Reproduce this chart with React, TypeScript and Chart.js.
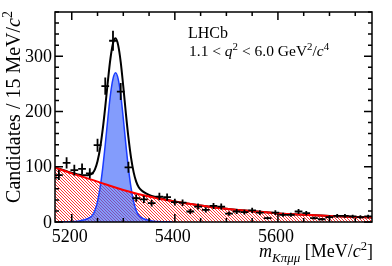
import React, { useEffect, useRef } from 'react';
import { Chart, registerables } from 'chart.js';
Chart.register(...registerables);

// Data points (bin centres in MeV/c^2, candidates per 15 MeV/c^2)
const binCenters = [5175, 5190, 5205, 5220, 5235, 5250, 5265, 5280, 5295, 5310, 5325, 5340, 5355, 5370, 5385, 5400, 5415, 5430, 5445, 5460, 5475, 5490, 5505, 5520, 5535, 5550, 5565, 5580, 5595, 5610, 5625, 5640, 5655, 5670, 5685, 5700, 5715, 5730, 5745, 5760, 5775];
const counts = [85, 107, 94, 96, 88, 139, 246, 328, 236, 99, 43, 41, 34, 46, 45, 36, 35, 19, 28, 22, 29, 28, 15, 19, 18, 21, 17, 7, 17, 13, 13, 19, 16, 7, 5, 9, 11, 11, 10, 9, 10];
const binHalfWidth = 7.5;

// Signal component (blue)
const sigMass = [5175, 5195, 5215, 5225, 5235, 5240, 5245, 5250, 5255, 5260, 5265, 5270, 5275, 5280, 5285, 5290, 5295, 5300, 5305, 5310, 5315, 5320, 5325, 5330, 5335, 5345, 5355, 5375, 5395];
const sigVals = [0.2, 0.5, 2, 4, 8, 12, 21, 37, 62, 97, 140, 187, 230, 259, 270, 259, 230, 187, 140, 97, 62, 37, 21, 12, 8, 4, 2, 0.5, 0.2];

// Combinatorial background (red, hatched)
const bkgMass = [5167.5, 5200, 5250, 5300, 5350, 5400, 5450, 5500, 5550, 5600, 5650, 5700, 5750, 5782.5];
const bkgVals = [98.5, 88, 73, 58, 46, 37, 30, 24, 19.5, 15.5, 13, 11, 9, 8.2];

// Total fit (black)
const totMass = [5167.5, 5195, 5215, 5225, 5235, 5240, 5245, 5250, 5255, 5260, 5265, 5270, 5275, 5280, 5285, 5290, 5295, 5300, 5305, 5310, 5315, 5320, 5325, 5330, 5335, 5345, 5355, 5375, 5395, 5450, 5500, 5550, 5600, 5650, 5700, 5750, 5782.5];
const totVals = [98.7, 90.3, 85.5, 84.5, 85.5, 88, 95.4, 110, 133.4, 167, 208.4, 254, 295.4, 323, 332.4, 320, 289.4, 245, 196.8, 152.5, 116.4, 90.2, 73, 62.8, 57.5, 51.2, 47, 42.5, 38.2, 30, 24, 19.5, 15.5, 13, 11, 9, 8.2];

const xTickLabels = [5200, 5400, 5600];
const yTickLabels = [0, 100, 200, 300];

const X_MIN = 5167.5;
const X_MAX = 5782.5;
const Y_MAX = 380;
const FONT = '"Liberation Serif", "Times New Roman", serif';

type Run = { t: string; it?: boolean; s?: number; dy?: number };

function runFont(r: Run, size: number) {
  return `${r.it ? 'italic ' : ''}${Math.round(size * (r.s || 1) * 10) / 10}px ${FONT}`;
}
function drawRuns(ctx: CanvasRenderingContext2D, runs: Run[], x: number, y: number, size: number, align: 'left' | 'right') {
  let total = 0;
  for (const r of runs) {
    ctx.font = runFont(r, size);
    total += ctx.measureText(r.t).width;
  }
  let cx = align === 'right' ? x - total : x;
  ctx.textAlign = 'left';
  ctx.textBaseline = 'alphabetic';
  for (const r of runs) {
    ctx.font = runFont(r, size);
    ctx.fillText(r.t, cx, y + (r.dy || 0) * size);
    cx += ctx.measureText(r.t).width;
  }
}

const framePlugin = {
  id: 'rootFrame',
  afterDatasetsDraw(chart: any) {
    const ctx: CanvasRenderingContext2D = chart.ctx;
    const xs = chart.scales.x;
    const ys = chart.scales.y;
    ctx.save();
    ctx.strokeStyle = '#000';
    ctx.lineWidth = 1.8;
    for (let i = 0; i < binCenters.length; i++) {
      const n = counts[i];
      const e = Math.sqrt(n);
      const x0 = xs.getPixelForValue(binCenters[i] - binHalfWidth);
      const x1 = xs.getPixelForValue(binCenters[i] + binHalfWidth);
      const xc = xs.getPixelForValue(binCenters[i]);
      const yc = ys.getPixelForValue(n);
      const ylo = ys.getPixelForValue(Math.max(0, n - e));
      const yhi = ys.getPixelForValue(n + e);
      ctx.beginPath();
      ctx.moveTo(x0, yc);
      ctx.lineTo(x1, yc);
      ctx.moveTo(xc, ylo);
      ctx.lineTo(xc, yhi);
      ctx.stroke();
    }
    ctx.restore();
  },
  afterDraw(chart: any) {
    const ctx: CanvasRenderingContext2D = chart.ctx;
    const { left, right, top, bottom } = chart.chartArea;
    const xs = chart.scales.x;
    const ys = chart.scales.y;
    ctx.save();
    ctx.strokeStyle = '#000';
    ctx.fillStyle = '#000';
    ctx.lineWidth = 1.5;
    ctx.strokeRect(left, top, right - left, bottom - top);
    ctx.beginPath();
    for (let v = 0; v <= Y_MAX; v += 20) {
      const y = ys.getPixelForValue(v);
      const len = v % 100 === 0 ? 8 : 4;
      ctx.moveTo(left, y); ctx.lineTo(left + len, y);
      ctx.moveTo(right, y); ctx.lineTo(right - len, y);
    }
    for (let m = 5200; m <= X_MAX; m += 50) {
      const x = xs.getPixelForValue(m);
      const len = (m - 5200) % 200 === 0 ? 8 : 4;
      ctx.moveTo(x, bottom); ctx.lineTo(x, bottom - len);
      ctx.moveTo(x, top); ctx.lineTo(x, top + len);
    }
    ctx.stroke();
    // tick labels
    ctx.font = `18px ${FONT}`;
    ctx.textAlign = 'right';
    ctx.textBaseline = 'middle';
    for (const v of yTickLabels) {
      ctx.fillText(String(v), left - 3, ys.getPixelForValue(v) + 1);
    }
    ctx.textAlign = 'center';
    ctx.textBaseline = 'top';
    for (const m of xTickLabels) {
      ctx.fillText(String(m), xs.getPixelForValue(m) - 2, bottom + 6);
    }
    // x title
    drawRuns(ctx, [
      { t: 'm', it: true },
      { t: 'K\u03C0\u03BC\u03BC', it: true, s: 0.72, dy: 0.28 },
      { t: ' [MeV/' },
      { t: 'c', it: true },
      { t: '2', s: 0.7, dy: -0.38 },
      { t: ']' },
    ], right + 1, 257, 18, 'right');
    // y title
    ctx.save();
    ctx.translate(20, top - 1);
    ctx.rotate(-Math.PI / 2);
    drawRuns(ctx, [
      { t: 'Candidates / 15 MeV/' },
      { t: 'c', it: true },
      { t: '2', s: 0.7, dy: -0.38 },
    ], 0, 0, 20, 'right');
    ctx.restore();
    // labels
    ctx.font = `16px ${FONT}`;
    ctx.textAlign = 'left';
    ctx.textBaseline = 'alphabetic';
    ctx.fillText('LHCb', 188, 38);
    drawRuns(ctx, [
      { t: '1.1 < ' },
      { t: 'q', it: true },
      { t: '2', s: 0.7, dy: -0.38 },
      { t: ' < 6.0 GeV' },
      { t: '2', s: 0.7, dy: -0.38 },
      { t: '/' },
      { t: 'c', it: true },
      { t: '4', s: 0.7, dy: -0.38 },
    ], 189, 56, 15.5, 'left');
    ctx.restore();
  },
};

export default function App() {
  const ref = useRef<HTMLCanvasElement>(null);
  useEffect(() => {
    document.body.style.margin = '0';
    const canvas = ref.current!;
    const ctx = canvas.getContext('2d')!;
    const pc = document.createElement('canvas');
    pc.width = 3; pc.height = 3;
    const p = pc.getContext('2d')!;
    p.strokeStyle = '#ff2020';
    p.lineWidth = 0.9;
    p.beginPath();
    p.moveTo(-1, -1); p.lineTo(4, 4);
    p.moveTo(-1, 2); p.lineTo(2, 5);
    p.moveTo(2, -1); p.lineTo(5, 2);
    p.stroke();
    const pattern = ctx.createPattern(pc, 'repeat');

    const pts = (xs: number[], ys: number[]) => xs.map((x, i) => ({ x, y: ys[i] }));
    const chart = new Chart(canvas, {
      type: 'line',
      data: {
        datasets: [
          {
            label: 'bkgfill', data: pts(bkgMass, bkgVals), borderWidth: 0, borderColor: 'rgba(0,0,0,0)',
            backgroundColor: pattern as any, fill: 'origin', pointRadius: 0, cubicInterpolationMode: 'monotone', order: 5,
          },
          {
            label: 'sig', data: pts(sigMass, sigVals), borderColor: '#1a3cff', borderWidth: 1.5,
            backgroundColor: 'rgba(55,95,250,0.62)', fill: 'origin', pointRadius: 0, cubicInterpolationMode: 'monotone', order: 4,
          },
          {
            label: 'tot', data: pts(totMass, totVals), borderColor: '#000', borderWidth: 2,
            fill: false, pointRadius: 0, cubicInterpolationMode: 'monotone', order: 2,
          },
          {
            label: 'bkg', data: pts(bkgMass, bkgVals), borderColor: '#ff0000', borderWidth: 2,
            fill: false, pointRadius: 0, cubicInterpolationMode: 'monotone', order: 1,
          },
        ],
      },
      options: {
        animation: false,
        responsive: false,
        devicePixelRatio: 1,
        layout: { padding: { left: 55, right: 20, top: 12, bottom: 44 } },
        scales: {
          x: { type: 'linear', min: X_MIN, max: X_MAX, display: false },
          y: { type: 'linear', min: 0, max: Y_MAX, display: false },
        },
        plugins: { legend: { display: false }, tooltip: { enabled: false } },
      },
      plugins: [framePlugin],
    });
    return () => chart.destroy();
  }, []);
  return (
    <canvas ref={ref} width={392} height={266} style={{ display: 'block', width: 392, height: 266 }} />
  );
}
